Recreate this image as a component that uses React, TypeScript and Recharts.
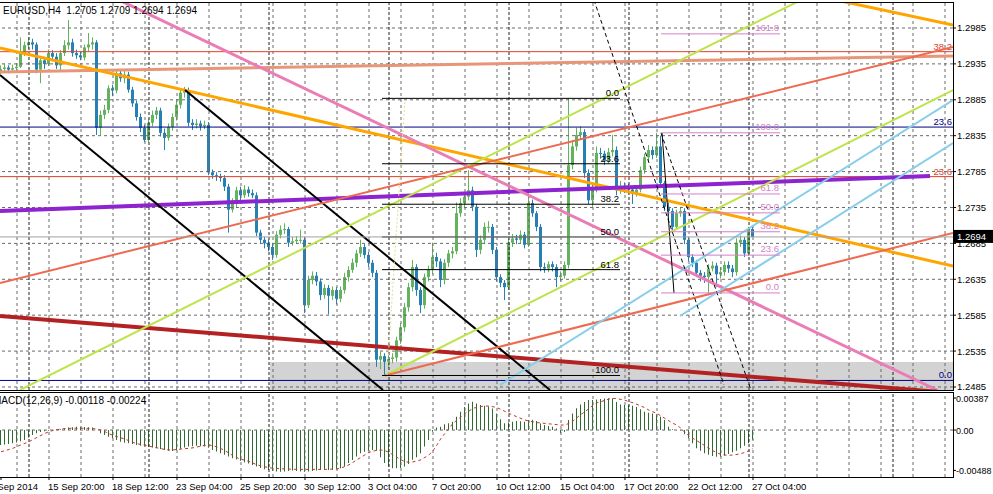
import React from 'react'
import { ComposedChart, Bar, Line, XAxis, YAxis, ReferenceLine, ReferenceArea } from 'recharts'

// EURUSD H4 quotes, stored as pips above 1.0000 (2928 -> 1.2928)
const firstOpen = 2925
const closes = [
  2928, 2930, 2927, 2929, 2931, 2950, 2961, 2965, 2962, 2927,
  2940, 2935, 2950, 2945, 2933, 2950, 2961, 2965, 2950, 2947,
  2944, 2958, 2962, 2965, 2846, 2864, 2871, 2901, 2898, 2922,
  2915, 2920, 2899, 2880, 2861, 2846, 2829, 2853, 2864, 2870,
  2839, 2832, 2847, 2861, 2878, 2895, 2898, 2853, 2850, 2852,
  2848, 2850, 2784, 2780, 2778, 2776, 2764, 2732, 2740, 2759,
  2752, 2760, 2755, 2752, 2700, 2690, 2685, 2680, 2669, 2697,
  2704, 2705, 2686, 2688, 2690, 2690, 2599, 2634, 2640, 2632,
  2613, 2623, 2612, 2620, 2608, 2620, 2638, 2648, 2658, 2671,
  2680, 2669, 2658, 2644, 2523, 2528, 2520, 2524, 2526, 2550,
  2568, 2596, 2624, 2652, 2620, 2599, 2638, 2648, 2666, 2660,
  2634, 2658, 2671, 2674, 2727, 2741, 2750, 2759, 2736, 2676,
  2690, 2708, 2708, 2676, 2638, 2630, 2624, 2686, 2692, 2690,
  2697, 2683, 2741, 2727, 2708, 2652, 2650, 2656, 2652, 2638,
  2640, 2655, 2794, 2820, 2836, 2840, 2783, 2745, 2760, 2811,
  2810, 2800, 2812, 2815, 2759, 2765, 2762, 2760, 2755, 2760,
  2787, 2805, 2815, 2808, 2820, 2769, 2736, 2730, 2708, 2727,
  2730, 2690, 2666, 2658, 2644, 2640, 2638, 2650, 2654, 2642,
  2645, 2655, 2650, 2645, 2686, 2690, 2671, 2705, 2694,
]
const highs = [
  2933, 2935, 2933, 2934, 2936, 2972, 2966, 2972, 2970, 2965,
  2944, 2945, 2955, 2954, 2950, 2954, 2968, 2996, 2970, 2955,
  2952, 2962, 2978, 2972, 2968, 2870, 2878, 2905, 2906, 2926,
  2928, 2926, 2924, 2903, 2884, 2866, 2850, 2858, 2870, 2875,
  2874, 2845, 2852, 2866, 2884, 2900, 2903, 2902, 2858, 2858,
  2856, 2856, 2854, 2788, 2784, 2782, 2780, 2768, 2748, 2764,
  2764, 2766, 2764, 2760, 2756, 2704, 2694, 2690, 2684, 2702,
  2710, 2713, 2708, 2694, 2695, 2704, 2694, 2640, 2646, 2645,
  2636, 2628, 2627, 2625, 2624, 2625, 2644, 2653, 2664, 2676,
  2690, 2684, 2673, 2662, 2648, 2534, 2532, 2530, 2532, 2555,
  2574, 2602, 2630, 2662, 2656, 2624, 2643, 2654, 2686, 2672,
  2664, 2663, 2676, 2680, 2742, 2748, 2756, 2787, 2764, 2740,
  2696, 2714, 2716, 2712, 2680, 2642, 2634, 2692, 2698, 2697,
  2703, 2701, 2756, 2746, 2730, 2712, 2658, 2660, 2660, 2656,
  2646, 2660, 2887, 2828, 2846, 2848, 2844, 2788, 2768, 2820,
  2818, 2814, 2818, 2836, 2820, 2772, 2770, 2768, 2764, 2766,
  2792, 2810, 2822, 2820, 2839, 2835, 2772, 2742, 2734, 2732,
  2736, 2734, 2694, 2670, 2662, 2648, 2645, 2656, 2660, 2658,
  2652, 2660, 2660, 2655, 2692, 2696, 2694, 2708, 2709,
]
const lows = [
  2921, 2925, 2922, 2924, 2926, 2929, 2946, 2956, 2955, 2922,
  2908, 2928, 2932, 2940, 2928, 2925, 2946, 2955, 2945, 2942,
  2940, 2940, 2952, 2955, 2836, 2836, 2858, 2866, 2890, 2894,
  2910, 2908, 2895, 2875, 2856, 2840, 2826, 2826, 2848, 2858,
  2834, 2815, 2828, 2842, 2856, 2873, 2888, 2848, 2843, 2845,
  2842, 2844, 2780, 2775, 2772, 2771, 2758, 2700, 2728, 2735,
  2745, 2748, 2750, 2748, 2695, 2684, 2678, 2674, 2662, 2665,
  2692, 2698, 2680, 2682, 2684, 2685, 2588, 2595, 2628, 2626,
  2606, 2608, 2586, 2606, 2600, 2603, 2615, 2632, 2644, 2652,
  2666, 2664, 2652, 2638, 2513, 2510, 2501, 2512, 2518, 2520,
  2545, 2562, 2590, 2618, 2612, 2588, 2594, 2632, 2642, 2652,
  2624, 2628, 2652, 2664, 2670, 2722, 2735, 2745, 2730, 2666,
  2670, 2684, 2700, 2670, 2632, 2624, 2606, 2620, 2680, 2684,
  2685, 2678, 2680, 2722, 2702, 2646, 2644, 2645, 2646, 2624,
  2632, 2636, 2650, 2788, 2814, 2830, 2776, 2740, 2736, 2756,
  2803, 2794, 2796, 2806, 2752, 2754, 2755, 2754, 2740, 2750,
  2756, 2782, 2800, 2802, 2804, 2762, 2730, 2724, 2702, 2704,
  2722, 2684, 2660, 2652, 2638, 2632, 2630, 2616, 2646, 2624,
  2636, 2640, 2644, 2638, 2640, 2680, 2666, 2668, 2694,
]

// MACD(12,26,9) main and signal, in units of 0.00001
const macdMain = [
  -181, -175, -168, -160, -150, -135, -121, -90, -60, -40,
  -25, -15, -8, 0, 5, 10, 20, 30, 35, 40,
  40, 38, 35, 30, 0, -40, -60, -80, -100, -120,
  -141, -155, -161, -170, -180, -190, -200, -205, -210, -220,
  -230, -240, -250, -255, -245, -225, -210, -200, -195, -190,
  -195, -200, -215, -240, -260, -280, -300, -320, -340, -355,
  -370, -390, -405, -423, -440, -460, -475, -484, -495, -500,
  -504, -500, -495, -490, -494, -500, -504, -500, -495, -490,
  -484, -480, -484, -480, -470, -463, -440, -400, -363, -320,
  -280, -262, -250, -242, -250, -330, -400, -440, -463, -463,
  -460, -440, -410, -360, -330, -280, -200, -120, -20, 30,
  40, 70, 81, 100, 160, 222, 280, 322, 343, 320,
  302, 295, 285, 260, 200, 130, 81, 90, 100, 110,
  105, 100, 120, 125, 110, 80, 60, 50, 40, 20,
  -40, -20, 120, 200, 262, 310, 340, 363, 363, 370,
  375, 380, 383, 380, 340, 310, 302, 300, 295, 280,
  250, 220, 210, 201, 190, 160, 120, 40, 10, 0,
  -5, -50, -100, -160, -220, -250, -280, -300, -315, -322,
  -322, -310, -290, -270, -250, -220, -190, -160, -118,
]
const macdSignal = [
  -262, -250, -235, -220, -200, -180, -161, -140, -115, -90,
  -65, -40, -20, -5, 5, 12, 18, 20, 22, 22,
  22, 22, 20, 18, 10, 0, -20, -45, -65, -80,
  -95, -110, -130, -150, -165, -175, -181, -195, -205, -215,
  -225, -235, -242, -240, -235, -230, -225, -222, -215, -205,
  -195, -185, -181, -190, -205, -225, -250, -280, -310, -335,
  -355, -363, -380, -400, -420, -435, -445, -455, -462, -465,
  -468, -470, -472, -474, -476, -476, -476, -476, -476, -476,
  -476, -476, -474, -472, -470, -460, -440, -420, -390, -360,
  -330, -300, -270, -255, -245, -242, -250, -270, -300, -330,
  -360, -383, -390, -385, -375, -360, -330, -300, -250, -180,
  -100, -40, 20, 80, 120, 160, 201, 230, 262, 275,
  285, 290, 290, 282, 270, 250, 225, 201, 180, 160,
  140, 121, 110, 100, 90, 85, 80, 75, 70, 65,
  60, 62, 80, 110, 150, 190, 222, 260, 300, 330,
  343, 360, 375, 383, 380, 370, 360, 343, 330, 310,
  290, 270, 240, 220, 201, 170, 140, 110, 80, 60,
  20, -30, -70, -101, -130, -160, -190, -222, -250, -275,
  -295, -302, -305, -302, -295, -285, -270, -250, -224,
]
const macdHeader = { main: -0.00118, signal: -0.00224 }

// time axis (bar index -> label)
const timeTickBars = [0, 12, 28, 44, 60, 76, 92, 108, 124, 140, 156, 172, 188]
const timeTickLabels = [
  '12 Sep 2014', '15 Sep 20:00', '18 Sep 12:00', '23 Sep 04:00', '25 Sep 20:00',
  '30 Sep 12:00', '3 Oct 04:00', '7 Oct 20:00', '10 Oct 12:00', '15 Oct 04:00',
  '17 Oct 20:00', '22 Oct 12:00', '27 Oct 04:00',
]
const weekSeparatorBars = [7, 37, 67, 97, 127, 157, 187, 223]

const priceTicks = [1.2485, 1.2535, 1.2585, 1.2635, 1.2685, 1.2735, 1.2785, 1.2835, 1.2885, 1.2935, 1.2985]
const macdTicks = [0.00387, 0, -0.00488]
const macdTickText = ['0.00387', '0.00', '-0.00488']

// drawn objects, endpoints as [bar index, price]
const trendLines = [
  { id: 'salmon', from: [-0.25, 1.29237], to: [238, 1.2946] },
  { id: 'orange', from: [-0.25, 1.29571], to: [238, 1.26535] },
  { id: 'orange', from: [200, 1.30344], to: [238, 1.29892] },
  { id: 'purple', from: [-0.25, 1.27301], to: [232.25, 1.27789] },
  { id: 'pink', from: [29.5, 1.3024], to: [234, 1.24808] },
  { id: 'darkred', from: [-0.25, 1.25839], to: [238, 1.24766] },
  { id: 'black', from: [-0.25, 1.29195], to: [95.5, 1.24808] },
  { id: 'black', from: [46, 1.28986], to: [137.25, 1.24808] },
  { id: 'lime', from: [4.75, 1.24808], to: [199, 1.30212] },
  { id: 'lime', from: [96, 1.2501], to: [238, 1.28986] },
  { id: 'tomato', from: [-0.25, 1.26299], to: [238, 1.29585] },
  { id: 'tomato', from: [96, 1.2501], to: [238, 1.26995] },
  { id: 'sky', from: [124.75, 1.24878], to: [238, 1.28847] },
  { id: 'sky', from: [169.75, 1.25839], to: [238, 1.28248] },
  { id: 'fanDash', from: [148.25, 1.3024], to: [180.75, 1.24878] },
  { id: 'fanDash', from: [165, 1.28388], to: [187.5, 1.24808] },
  { id: 'fanSolid', from: [165.25, 1.28388], to: [168.25, 1.26159] },
  { id: 'dotted', from: [96.5, 1.2501], to: [101, 1.2885] },
]
const lineStyle: Record<string, { stroke: string; width: number; dash?: string }> = {
  salmon: { stroke: '#E8967A', width: 3 },
  orange: { stroke: '#FFA500', width: 3 },
  purple: { stroke: '#8E24D0', width: 4 },
  pink: { stroke: '#EA7DB6', width: 3 },
  darkred: { stroke: '#B22222', width: 4 },
  black: { stroke: '#000000', width: 2 },
  lime: { stroke: '#BFE34A', width: 2 },
  tomato: { stroke: '#EE6A50', width: 2 },
  sky: { stroke: '#87CEEB', width: 2 },
  fanDash: { stroke: '#000000', width: 1, dash: '4 3' },
  fanSolid: { stroke: '#000000', width: 1 },
  dotted: { stroke: '#E2E28A', width: 1, dash: '2 2' },
}

// horizontal levels running across the whole chart
const levelLines = [
  { id: 'red', price: 1.2952, text: '38.2' },
  { id: 'navy', price: 1.2847, text: '23.6' },
  { id: 'red', price: 1.2778, text: '23.6' },
  { id: 'navy', price: 1.24941, text: '0.0' },
]
const levelColor: Record<string, string> = { red: '#E0402A', navy: '#000080' }

// fibonacci retracements
const fibA = { from: 95.25, to: 154.75, top: 1.2887, bottom: 1.2501 }
const fibARatios = [0, 23.6, 38.2, 50, 61.8, 100]
const fibB = { from: 165, to: 194.75, top: 1.2839, bottom: 1.2616 }
const fibBRatios = [0, 23.6, 38.2, 50, 61.8, 100, 161.8]

const supportBox = { x1: 67.25, x2: 238, y1: 1.24808, y2: 1.25198 }

const rows = closes.map((c, i) => {
  const open = 1 + (i === 0 ? firstOpen : closes[i - 1]) / 10000
  const high = 1 + highs[i] / 10000
  const low = 1 + lows[i] / 10000
  return {
    i,
    open,
    high,
    low,
    close: 1 + c / 10000,
    range: [low, high],
    macd: (macdMain[i] ?? 0) / 100000,
    signal: (macdSignal[i] ?? 0) / 100000,
  }
})
const last = rows[rows.length - 1]
const lastPrice = last.close

const gridBars = Array.from({ length: 30 }, (_, k) => 4 + 8 * k)
const X_DOMAIN: [number, number] = [-0.25, 238]
const FONT = '"Liberation Sans", Arial, sans-serif'

function Candle(props: any) {
  const { x, y, width, height, payload } = props
  if (!payload || height == null) return null
  const top = Math.min(y, y + height)
  const h = Math.abs(height)
  const span = payload.high - payload.low
  const k = span > 0 ? h / span : 0
  const up = payload.close >= payload.open
  const color = up ? '#62B25E' : '#2680B5'
  const cx = Math.floor(x + width / 2) + 0.5
  const bTop = top + (payload.high - Math.max(payload.open, payload.close)) * k
  const bBot = top + (payload.high - Math.min(payload.open, payload.close)) * k
  return (
    <g>
      <line x1={cx} x2={cx} y1={top} y2={top + h} stroke={color} strokeWidth={1} />
      <rect x={cx - 1.5} y={bTop} width={3} height={Math.max(1, bBot - bTop)} fill={color} />
    </g>
  )
}

function PriceTick(props: any) {
  const { y, payload } = props
  const v = payload.value
  if (v === lastPrice) {
    return (
      <g>
        <rect x={953} y={y - 7} width={40} height={13} fill="#000" />
        <text x={957} y={y + 3.5} fill="#fff" fontSize={9.5}>{v.toFixed(4)}</text>
      </g>
    )
  }
  return <text x={957} y={y + 3.5} fill="#000" fontSize={9.5}>{v.toFixed(4)}</text>
}

function MacdTick(props: any) {
  const { y, payload } = props
  const k = macdTicks.indexOf(payload.value)
  return <text x={956} y={y + 3.5} fill="#000" fontSize={9}>{macdTickText[k]}</text>
}

function TimeTick(props: any) {
  const { x, payload } = props
  const k = timeTickBars.indexOf(payload.value)
  if (k === 0) {
    return <text x={38} y={98} textAnchor="end" fill="#000" fontSize={9.5}>{timeTickLabels[0]}</text>
  }
  return <text x={x - 1} y={98} fill="#000" fontSize={9.5}>{timeTickLabels[k]}</text>
}

const endLabel = (text: string, color: string, lift = 2) => (props: any) => {
  const vb = props.viewBox
  if (!vb) return null
  return (
    <text x={vb.x + vb.width - 1} y={vb.y - lift} textAnchor="end" fill={color} fontSize={9.5}>
      {text}
    </text>
  )
}

function verticalGrid() {
  return [
    ...gridBars.map((b) => (
      <ReferenceLine key={`g${b}`} x={b} stroke="#6a6a6a" strokeDasharray="3 3" ifOverflow="hidden" />
    )),
    ...weekSeparatorBars.map((b) => (
      <ReferenceLine key={`w${b}`} x={b} stroke="#222" strokeDasharray="3 2" ifOverflow="hidden" />
    )),
  ]
}

export default function App() {
  const header = `EURUSD,H4  ${last.open.toFixed(4)} ${last.high.toFixed(4)} ${last.low.toFixed(4)} ${last.close.toFixed(4)}`
  const macdTitle = `MACD(12,26,9) ${macdHeader.main.toFixed(5)} ${macdHeader.signal.toFixed(5)}`
  return (
    <div
      style={{
        position: 'absolute',
        left: 0,
        top: 0,
        width: 993,
        height: 494,
        background: '#fff',
        overflow: 'hidden',
        fontFamily: FONT,
      }}
    >
      {/* price window */}
      <div style={{ position: 'absolute', left: 0, top: 0 }}>
        <ComposedChart width={993} height={392} data={rows} margin={{ top: 3, right: 0, bottom: 2, left: 0 }}>
          <XAxis type="number" dataKey="i" domain={X_DOMAIN} allowDataOverflow hide />
          <YAxis
            orientation="right"
            width={40}
            domain={[1.24808, 1.30198]}
            allowDataOverflow
            ticks={[...priceTicks, lastPrice]}
            interval={0}
            tick={<PriceTick />}
            tickLine={{ stroke: '#000' }}
            tickSize={3}
            axisLine={false}
          />
          <ReferenceArea
            x1={supportBox.x1}
            x2={supportBox.x2}
            y1={supportBox.y1}
            y2={supportBox.y2}
            fill="#D3D3D3"
            fillOpacity={1}
            stroke="none"
            ifOverflow="hidden"
          />
          {priceTicks.map((p) => (
            <ReferenceLine key={`h${p}`} y={p} stroke="#6a6a6a" strokeDasharray="3 3" ifOverflow="hidden" />
          ))}
          {verticalGrid()}
          {levelLines.map((l, n) => (
            <ReferenceLine
              key={`lv${n}`}
              segment={[{ x: X_DOMAIN[0], y: l.price }, { x: X_DOMAIN[1], y: l.price }]}
              stroke={levelColor[l.id]}
              strokeWidth={1}
              ifOverflow="hidden"
              label={endLabel(l.text, levelColor[l.id])}
            />
          ))}
          {trendLines.map((t, n) => {
            const s = lineStyle[t.id]
            return (
              <ReferenceLine
                key={`t${n}`}
                segment={[{ x: t.from[0], y: t.from[1] }, { x: t.to[0], y: t.to[1] }]}
                stroke={s.stroke}
                strokeWidth={s.width}
                strokeDasharray={s.dash}
                ifOverflow="hidden"
              />
            )
          })}
          {fibARatios.map((r) => {
            const p = fibA.top - (r / 100) * (fibA.top - fibA.bottom)
            return (
              <ReferenceLine
                key={`fa${r}`}
                segment={[{ x: fibA.from, y: p }, { x: fibA.to, y: p }]}
                stroke="#000"
                strokeWidth={1}
                ifOverflow="hidden"
                label={endLabel(r.toFixed(1), '#000')}
              />
            )
          })}
          {fibBRatios.map((r) => {
            const p = fibB.bottom + (r / 100) * (fibB.top - fibB.bottom)
            return (
              <ReferenceLine
                key={`fb${r}`}
                segment={[{ x: fibB.from, y: p }, { x: fibB.to, y: p }]}
                stroke="#D47FC8"
                strokeWidth={1}
                ifOverflow="hidden"
                label={endLabel(r.toFixed(1), '#D47FC8', 3)}
              />
            )
          })}
          <ReferenceLine y={lastPrice} stroke="#A0A0A0" ifOverflow="hidden" />
          <Bar dataKey="range" shape={<Candle />} barSize={3} isAnimationActive={false} />
        </ComposedChart>
      </div>

      {/* MACD window */}
      <div style={{ position: 'absolute', left: 0, top: 392 }}>
        <ComposedChart width={993} height={102} data={rows} margin={{ top: 0, right: 0, bottom: 0, left: 0 }}>
          <XAxis
            type="number"
            dataKey="i"
            domain={X_DOMAIN}
            allowDataOverflow
            ticks={timeTickBars}
            interval={0}
            height={17}
            tick={<TimeTick />}
            tickLine={{ stroke: '#000' }}
            tickSize={3}
            axisLine={false}
          />
          <YAxis
            orientation="right"
            width={40}
            domain={[-0.00568, 0.0046]}
            allowDataOverflow
            ticks={macdTicks}
            interval={0}
            tick={<MacdTick />}
            tickLine={{ stroke: '#000' }}
            tickSize={3}
            axisLine={false}
          />
          {verticalGrid()}
          <ReferenceLine y={0} stroke="#6a6a6a" strokeDasharray="3 3" ifOverflow="hidden" />
          <Bar dataKey="macd" fill="#2E6B2E" barSize={1} isAnimationActive={false} />
          <Line
            type="linear"
            dataKey="signal"
            stroke="#C0392B"
            strokeWidth={1}
            strokeDasharray="3 3"
            dot={false}
            isAnimationActive={false}
          />
        </ComposedChart>
      </div>

      {/* window frames */}
      <div
        style={{
          position: 'absolute',
          left: -1,
          top: 2,
          width: 955,
          height: 389,
          border: '1px solid #000',
          boxSizing: 'border-box',
          pointerEvents: 'none',
        }}
      />
      <div
        style={{
          position: 'absolute',
          left: -1,
          top: 392,
          width: 955,
          height: 86,
          border: '1px solid #000',
          boxSizing: 'border-box',
          pointerEvents: 'none',
        }}
      />

      <div style={{ position: 'absolute', left: 3, top: 5, fontSize: 10, lineHeight: '12px', whiteSpace: 'pre' }}>
        {header}
      </div>
      <div style={{ position: 'absolute', left: -7, top: 395, fontSize: 10, lineHeight: '12px', whiteSpace: 'pre' }}>
        {macdTitle}
      </div>
    </div>
  )
}
